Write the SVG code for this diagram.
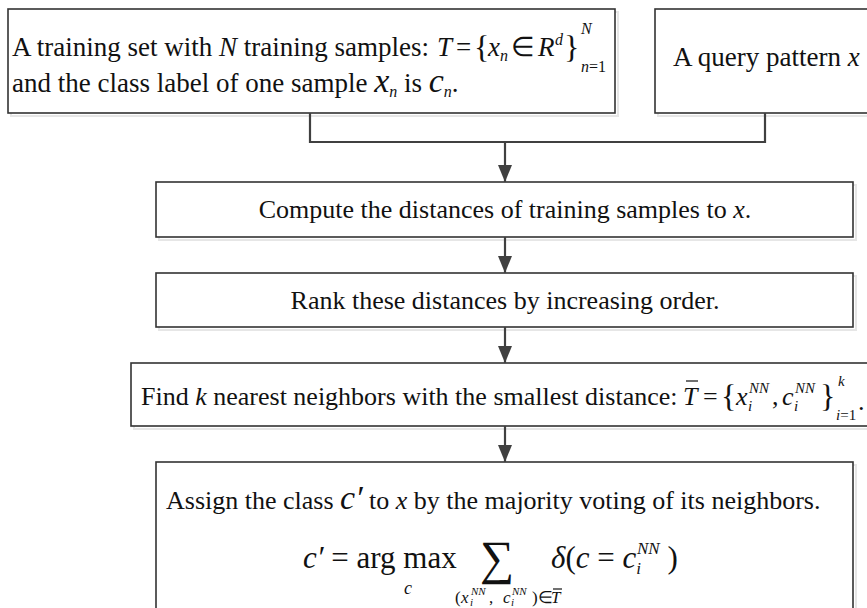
<svg xmlns="http://www.w3.org/2000/svg" width="867" height="608" viewBox="0 0 867 608">
<defs>
<marker id="ah" markerWidth="17" markerHeight="14" refX="17" refY="7" orient="auto" markerUnits="userSpaceOnUse" viewBox="0 0 17 14">
<path d="M0,0 L17,7 L0,14 Z" fill="#404040"/>
</marker>
<style>
.box{fill:#fff;stroke:#333;stroke-width:1.6}
.sh{fill:none;stroke:#e6e6e6;stroke-width:2}
text{font-family:"Liberation Serif","Times New Roman",serif;fill:#111}
.t{font-size:27px}
.u{font-size:26px}
.i{font-style:italic}
.s{font-size:16px}
.ss{font-size:15px}
.br{font-size:32px}
.bx{font-size:34px}
.con{fill:none;stroke:#404040;stroke-width:2.2}
.ol{stroke:#111;stroke-width:1.2}
</style>
</defs>
<rect width="867" height="608" fill="#fff"/>

<g id="n1">
<rect class="sh" x="11" y="12" width="607" height="104"/>
<rect class="box" x="8" y="9" width="607" height="104"/>
<text class="t" x="12" y="56">A training set with <tspan class="i">N</tspan> training samples: </text>
<text class="t i" x="437" y="56">T</text>
<text class="t" x="456" y="56">=</text>
<text class="br" x="474" y="58">{</text>
<text class="t i" x="488" y="56">x</text>
<text class="s i" x="500" y="61">n</text>
<text class="t" x="511" y="56">∈</text>
<text class="t i" x="538" y="56">R</text>
<text class="s i" x="555" y="45">d</text>
<text class="br" x="564" y="58">}</text>
<text class="s i" x="581" y="34">N</text>
<text class="s" x="581" y="72"><tspan class="i">n</tspan>=1</text>
<text class="t" x="12" y="92">and the class label of one sample <tspan class="i bx">x</tspan><tspan class="s i" dy="5">n</tspan><tspan dy="-5"> is </tspan><tspan class="i bx">c</tspan><tspan class="s i" dy="5">n</tspan><tspan dy="-5">.</tspan></text>
</g>

<g id="n2">
<rect class="sh" x="658" y="12" width="230" height="104"/>
<rect class="box" x="655" y="9" width="230" height="104"/>
<text class="t" x="673" y="66">A query pattern <tspan class="i">x</tspan></text>
</g>

<g id="n3">
<rect class="sh" x="159" y="185" width="697" height="55"/>
<rect class="box" x="156" y="182" width="697" height="55"/>
<text class="u" x="505" y="218" text-anchor="middle">Compute the distances of training samples to <tspan class="i">x</tspan>.</text>
</g>

<g id="n4">
<rect class="sh" x="159" y="276" width="697" height="54"/>
<rect class="box" x="156" y="273" width="697" height="54"/>
<text class="u" x="505" y="309" text-anchor="middle">Rank these distances by increasing order.</text>
</g>

<g id="n5">
<rect class="sh" x="134" y="366" width="760" height="63"/>
<rect class="box" x="131" y="363" width="760" height="63"/>
<text class="u" x="141" y="405">Find <tspan class="i">k</tspan> nearest neighbors with the smallest distance: </text>
<text class="u i" x="683" y="405">T</text>
<line class="ol" x1="686" y1="381" x2="698" y2="381"/>
<text class="u" x="703" y="405">=</text>
<text class="br" x="721" y="407">{</text>
<text class="u i" x="736" y="405">x</text>
<text class="ss i" x="748" y="411">i</text>
<text class="ss i" x="749" y="393">NN</text>
<text class="u" x="772" y="405">,</text>
<text class="u i" x="782" y="405">c</text>
<text class="ss i" x="794" y="411">i</text>
<text class="ss i" x="795" y="393">NN</text>
<text class="br" x="820" y="407">}</text>
<text class="ss i" x="838" y="386">k</text>
<text class="ss" x="836" y="420"><tspan class="i">i</tspan>=1</text>
<text class="u" x="858" y="410">.</text>
</g>

<g id="n6">
<rect class="sh" x="159" y="465" width="697" height="160"/>
<rect class="box" x="156" y="462" width="697" height="160"/>
<text class="u" x="166" y="509">Assign the class <tspan class="i bx">c′</tspan> to <tspan class="i">x</tspan> by the majority voting of its neighbors.</text>
<text x="303" y="568" style="font-size:31px"><tspan class="i">c′</tspan> = arg max</text>
<text class="i" x="404" y="594" style="font-size:18px">c</text>
<text x="480" y="574" style="font-size:48px">∑</text>
<text x="455" y="603" style="font-size:17px">(</text>
<text class="i" x="461" y="603" style="font-size:17px">x</text>
<text class="i" x="470" y="606" style="font-size:11px">i</text>
<text class="i" x="471" y="595" style="font-size:11px">NN</text>
<text x="489" y="603" style="font-size:17px">,</text>
<text class="i" x="503" y="603" style="font-size:17px">c</text>
<text class="i" x="511" y="606" style="font-size:11px">i</text>
<text class="i" x="512" y="595" style="font-size:11px">NN</text>
<text x="532" y="603" style="font-size:17px">)∈</text>
<text class="i" x="551" y="603" style="font-size:17px">T</text>
<line class="ol" x1="553" y1="589" x2="562" y2="589" stroke-width="1"/>
<text x="551" y="568" style="font-size:31px"><tspan class="i">δ</tspan>(<tspan class="i">c</tspan> = <tspan class="i">c</tspan><tspan class="i" style="font-size:17px" dy="6">i</tspan><tspan class="i" style="font-size:17px" dx="-4" dy="-20">NN</tspan><tspan dy="14"> )</tspan></text>
</g>

<g id="connectors">
<path class="con" d="M310,113 V142 H765 V113"/>
<path class="con" d="M505,142 V182" marker-end="url(#ah)"/>
<path class="con" d="M505,237 V273" marker-end="url(#ah)"/>
<path class="con" d="M505,327 V363" marker-end="url(#ah)"/>
<path class="con" d="M505,426 V462" marker-end="url(#ah)"/>
</g>
</svg>
